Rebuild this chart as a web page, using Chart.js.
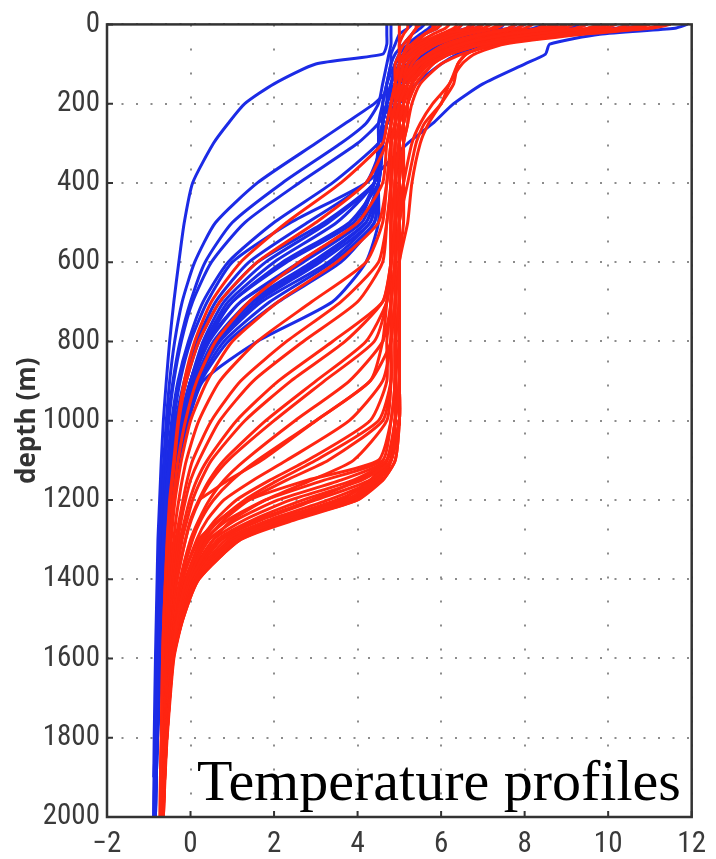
<!DOCTYPE html>
<html>
<head>
<meta charset="utf-8">
<title>Temperature profiles</title>
<script src="https://cdn.jsdelivr.net/npm/chart.js@4.4.1/dist/chart.umd.min.js"></script>
<style>
  html, body { margin: 0; padding: 0; background: #fff; }
  #wrap { position: relative; width: 716px; height: 859px; }
  #note {
    position: absolute; left: 197px; top: 752px;
    font-family: 'Liberation Serif', 'Times New Roman', serif;
    font-size: 58px; line-height: 1; color: #000; white-space: nowrap;
  }
</style>
</head>
<body>
<div id="wrap">
  <canvas id="chart" width="716" height="859"></canvas>
  <div id="note">Temperature profiles</div>
</div>
<script>
// depth levels (m) shared by every profile
const depths = [0, 10, 25, 50, 75, 100, 150, 200, 250, 300,
                400, 500, 600, 700, 800, 900, 1000, 1100, 1150, 1200,
                1250, 1300, 1400, 1500, 1600, 1800, 1900, 2000];

const tempTicks = [-2, 0, 2, 4, 6, 8, 10, 12];
const depthTicks = [0, 200, 400, 600, 800, 1000, 1200, 1400, 1600, 1800, 2000];

// temperature (deg C), one row per profile
const blueProfiles = [
  [4.7, 4.7, 4.7, 4.7, 4.6, 3.0, 2.0, 1.3, 0.9, 0.55,  0.05, -0.15, -0.28, -0.4, -0.5, -0.58, -0.65, -0.7, -0.72, -0.74,  -0.76, -0.78, -0.8, -0.82, -0.84, -0.87, -0.88, null],
  [11.9, 11.6, 9.8, 8.6, 8.5, 8.0, 7.0, 6.3, 5.8, 5.2,  4.2, 2.4, 1.0, 0.4, 0.0, -0.25, -0.4, -0.5, -0.55, -0.6,  -0.63, -0.66, -0.72, -0.76, -0.79, -0.83, -0.85, -0.86],
  [10.5, 10.2, 8.5, 6.8, 6.0, 5.5, 4.9, 4.4, 3.7, 3.0,  1.6, 0.6, 0.1, -0.2, -0.38, -0.5, -0.58, -0.64, -0.67, -0.7,  -0.72, -0.74, -0.78, -0.8, -0.82, -0.85, -0.87, -0.88],
  [9.5, 9.2, 8.0, 7.0, 6.2, 5.6, 5.1, 4.8, 4.5, 4.0,  2.6, 1.3, 0.5, 0.05, -0.22, -0.4, -0.52, -0.6, -0.63, -0.66,  -0.69, -0.72, -0.76, -0.79, -0.81, -0.84, -0.86, -0.87],
  [8.8, 8.6, 7.8, 7.0, 6.4, 6.0, 5.4, 5.0, 4.7, 4.5,  3.4, 2.0, 0.9, 0.3, -0.05, -0.3, -0.45, -0.55, -0.59, -0.62,  -0.65, -0.68, -0.73, -0.77, -0.8, -0.84, -0.86, -0.87],
  [7.5, 7.4, 6.8, 6.0, 5.6, 5.3, 5.0, 4.8, 4.7, 4.6,  4.2, 2.8, 1.4, 0.6, 0.15, -0.15, -0.35, -0.48, -0.53, -0.57,  -0.6, -0.63, -0.7, -0.75, -0.78, -0.83, -0.85, -0.86],
  [6.5, 6.4, 6.0, 5.6, 5.3, 5.1, 4.9, 4.7, 4.6, 4.5,  4.4, 3.3, 1.8, 0.8, 0.3, 0.0, -0.25, -0.4, -0.46, -0.5,  -0.54, -0.58, -0.65, -0.71, -0.76, -0.82, -0.84, -0.85],
  [5.8, 5.7, 5.5, 5.2, 5.0, 4.9, 4.8, 4.7, 4.6, 4.5,  4.4, 3.9, 2.3, 1.0, 0.35, 0.0, -0.22, -0.38, -0.44, -0.49,  -0.53, -0.57, -0.64, -0.7, -0.75, -0.81, -0.84, -0.85],
  [7.0, 6.8, 6.2, 5.5, 5.1, 4.9, 4.7, 4.6, 4.5, 4.5,  4.4, 4.0, 2.6, 1.2, 0.45, 0.05, -0.2, -0.36, -0.42, -0.47,  -0.51, -0.55, -0.62, -0.69, -0.74, -0.8, -0.83, -0.85],
  [9.0, 8.8, 7.5, 6.2, 5.6, 5.2, 4.9, 4.7, 4.6, 4.6,  4.5, 4.2, 2.9, 1.4, 0.55, 0.1, -0.18, -0.34, -0.4, -0.45,  -0.5, -0.54, -0.62, -0.68, -0.73, -0.8, -0.83, -0.85],
  [8.0, 7.8, 7.0, 6.0, 5.5, 5.2, 4.9, 4.8, 4.7, 4.6,  4.5, 4.3, 3.3, 1.7, 0.7, 0.15, -0.15, -0.32, -0.38, -0.44,  -0.49, -0.53, -0.61, -0.68, -0.73, -0.8, -0.83, -0.84],
  [6.0, 5.9, 5.6, 5.3, 5.1, 5.0, 4.8, 4.7, 4.6, 4.6,  4.5, 4.4, 3.6, 2.1, 0.9, 0.25, -0.1, -0.3, -0.37, -0.43,  -0.48, -0.52, -0.6, -0.67, -0.72, -0.79, -0.82, -0.84],
  [5.3, 5.2, 5.0, 4.9, 4.8, 4.8, 4.7, 4.7, 4.6, 4.6,  4.5, 4.5, 4.2, 3.4, 1.6, 0.3, -0.05, -0.28, -0.35, -0.41,  -0.46, -0.5, -0.58, -0.66, -0.72, -0.79, -0.82, -0.84],
  [10.0, 9.7, 8.2, 6.5, 5.8, 5.4, 5.0, 4.8, 4.7, 4.6,  4.4, 3.2, 1.6, 0.7, 0.2, -0.1, -0.3, -0.44, -0.5, -0.54,  -0.58, -0.62, -0.68, -0.74, -0.78, -0.83, -0.85, -0.86],
  [4.8, 4.8, 4.8, 4.8, 4.75, 4.7, 4.6, 4.5, 4.2, 3.6,  2.2, 1.0, 0.35, 0.0, -0.25, -0.42, -0.54, -0.62, -0.65, -0.68,  -0.71, -0.73, -0.77, -0.8, -0.82, -0.85, -0.87, -0.88],
  [8.5, 8.2, 7.2, 6.4, 5.9, 5.5, 5.1, 4.9, 4.7, 4.6,  4.5, 4.1, 2.7, 1.2, 0.4, 0.0, -0.22, -0.37, -0.43, -0.48,  -0.52, -0.56, -0.63, -0.69, -0.74, -0.8, -0.83, -0.85],
  [6.8, 6.6, 6.1, 5.5, 5.2, 5.0, 4.8, 4.7, 4.6, 4.5,  4.4, 3.5, 2.0, 0.9, 0.35, 0.0, -0.25, -0.4, -0.46, -0.5,  -0.54, -0.58, -0.65, -0.71, -0.76, -0.82, -0.84, -0.85],
  [9.3, 9.0, 7.8, 6.6, 5.9, 5.4, 5.0, 4.8, 4.7, 4.6,  4.5, 3.8, 2.2, 1.0, 0.4, 0.05, -0.2, -0.37, -0.43, -0.48,  -0.52, -0.56, -0.63, -0.7, -0.75, -0.81, -0.84, -0.85],
  [5.6, 5.5, 5.3, 5.1, 4.9, 4.8, 4.7, 4.6, 4.6, 4.5,  4.5, 4.2, 3.0, 1.5, 0.6, 0.1, -0.17, -0.34, -0.4, -0.46,  -0.5, -0.54, -0.62, -0.68, -0.73, -0.8, -0.83, -0.85],
  [7.8, 7.6, 6.8, 6.0, 5.5, 5.2, 4.9, 4.8, 4.7, 4.6,  4.5, 4.3, 3.1, 1.6, 0.65, 0.12, -0.16, -0.33, -0.39, -0.45,  -0.5, -0.54, -0.61, -0.68, -0.73, -0.8, -0.83, -0.84],
  [10.8, 10.4, 8.7, 7.0, 6.1, 5.6, 5.1, 4.9, 4.7, 4.6,  4.5, 4.4, 3.4, 1.9, 0.8, 0.2, -0.12, -0.31, -0.38, -0.44,  -0.49, -0.53, -0.61, -0.67, -0.72, -0.79, -0.82, -0.84]
];

const redProfiles = [
  [7.0, 6.8, 6.0, 5.5, 5.2, 5.0, 4.9, 4.8, 4.7, 4.6,  3.6, 2.3, 1.2, 0.5, 0.1, -0.15, -0.3, -0.4, -0.45, -0.5,  -0.53, -0.56, -0.6, -0.64, -0.67, -0.7, -0.72, -0.73],
  [9.0, 8.7, 7.6, 6.5, 5.9, 5.5, 5.1, 4.9, 4.8, 4.7,  4.2, 3.0, 1.6, 0.7, 0.2, -0.1, -0.28, -0.38, -0.43, -0.48,  -0.52, -0.55, -0.6, -0.64, -0.67, -0.7, -0.72, -0.73],
  [6.0, 5.9, 5.6, 5.3, 5.1, 5.0, 4.9, 4.8, 4.8, 4.7,  4.6, 4.0, 2.6, 1.4, 0.6, 0.15, -0.12, -0.3, -0.36, -0.42,  -0.46, -0.5, -0.56, -0.61, -0.65, -0.69, -0.71, -0.72],
  [10.5, 10.2, 8.8, 7.0, 6.2, 5.7, 5.2, 5.0, 4.9, 4.8,  4.7, 4.5, 3.5, 2.1, 1.0, 0.4, 0.0, -0.22, -0.3, -0.37,  -0.42, -0.46, -0.53, -0.59, -0.63, -0.68, -0.7, -0.72],
  [8.0, 7.8, 7.0, 6.2, 5.7, 5.4, 5.1, 5.0, 4.9, 4.8,  4.7, 4.6, 4.2, 2.9, 1.6, 0.7, 0.2, -0.1, -0.2, -0.28,  -0.35, -0.4, -0.49, -0.56, -0.61, -0.67, -0.7, -0.71],
  [6.7, 6.6, 6.1, 5.6, 5.3, 5.1, 5.0, 4.9, 4.9, 4.8,  4.8, 4.7, 4.5, 3.6, 2.3, 1.2, 0.5, 0.05, -0.08, -0.18,  -0.27, -0.35, -0.46, -0.54, -0.6, -0.66, -0.69, -0.7],
  [5.5, 5.4, 5.3, 5.1, 5.0, 5.0, 4.9, 4.9, 4.8, 4.8,  4.8, 4.7, 4.6, 4.0, 2.7, 1.5, 0.7, 0.2, 0.0, -0.12,  -0.22, -0.3, -0.42, -0.51, -0.58, -0.65, -0.68, -0.7],
  [9.8, 9.5, 8.2, 6.9, 6.2, 5.8, 5.4, 5.2, 5.1, 5.0,  4.9, 4.9, 4.8, 4.6, 3.4, 2.1, 1.1, 0.4, 0.15, -0.02,  -0.14, -0.25, -0.4, -0.5, -0.57, -0.65, -0.68, -0.7],
  [11.0, 10.6, 9.0, 7.2, 6.6, 6.4, 6.2, 5.8, 5.5, 5.3,  5.1, 4.9, 4.8, 4.6, 3.7, 2.4, 1.3, 0.5, 0.25, 0.05,  -0.08, -0.2, -0.36, -0.48, -0.56, -0.64, -0.67, -0.69],
  [5.9, 5.8, 5.6, 5.3, 5.1, 5.0, 4.9, 4.9, 4.8, 4.8,  4.8, 4.8, 4.8, 4.7, 4.4, 3.2, 2.0, 0.9, 0.5, 0.22,  0.02, -0.12, -0.32, -0.45, -0.54, -0.63, -0.66, -0.68],
  [7.5, 7.3, 6.6, 5.9, 5.5, 5.3, 5.1, 5.0, 5.0, 4.9,  4.9, 4.8, 4.8, 4.7, 4.2, 3.0, 1.8, 0.8, 0.45, 0.2,  0.0, -0.12, -0.32, -0.45, -0.54, -0.63, -0.66, -0.68],
  [9.5, 9.2, 8.0, 6.8, 6.0, 5.6, 5.3, 5.1, 5.0, 5.0,  4.9, 4.9, 4.8, 4.8, 4.6, 3.8, 2.5, 1.3, 0.8, 0.45,  0.2, 0.0, -0.25, -0.42, -0.52, -0.62, -0.66, -0.68],
  [8.7, 8.4, 7.5, 6.6, 6.0, 5.6, 5.3, 5.1, 5.0, 5.0,  4.9, 4.9, 4.9, 4.8, 4.8, 4.3, 3.0, 1.6, 1.0, 0.55,  0.25, 0.05, -0.22, -0.4, -0.51, -0.62, -0.66, -0.68],
  [6.5, 6.4, 6.0, 5.5, 5.2, 5.1, 5.0, 4.9, 4.9, 4.9,  4.8, 4.8, 4.8, 4.7, 4.6, 4.3, 3.0, 1.7, 0.9, 0.2,  null, null, null, null, null, null, null, null],
  [8.5, 8.3, 7.4, 6.5, 5.9, 5.5, 5.2, 5.1, 5.0, 5.0,  4.9, 4.9, 4.9, 4.8, 4.8, 4.6, 3.8, 2.3, 1.5, 0.8,  0.4, 0.15, -0.18, -0.38, -0.5, -0.61, -0.65, -0.67],
  [7.0, 6.9, 6.3, 5.7, 5.4, 5.2, 5.1, 5.0, 5.0, 4.9,  4.9, 4.9, 4.9, 4.9, 4.8, 4.8, 4.5, 3.0, 2.1, 1.3,  0.7, 0.3, -0.1, -0.33, -0.47, -0.6, -0.64, -0.66],
  [5.2, 5.2, 5.1, 5.0, 5.0, 4.9, 4.9, 4.9, 4.9, 4.8,  4.8, 4.8, 4.8, 4.8, 4.7, 4.7, 4.3, 2.8, 1.9, 1.1,  0.6, 0.25, -0.12, -0.35, -0.48, -0.6, -0.64, -0.66],
  [10.0, 9.7, 8.3, 6.9, 6.1, 5.7, 5.3, 5.1, 5.0, 5.0,  5.0, 4.9, 4.9, 4.9, 4.8, 4.8, 4.6, 3.3, 2.3, 1.4,  0.8, 0.4, -0.05, -0.3, -0.45, -0.58, -0.63, -0.66],
  [7.2, 7.0, 6.4, 5.8, 5.4, 5.2, 5.0, 5.0, 4.9, 4.9,  4.9, 4.9, 4.9, 4.8, 4.8, 4.8, 4.7, 3.9, 2.9, 1.8,  1.0, 0.55, 0.0, -0.28, -0.44, -0.58, -0.63, -0.66],
  [9.8, 9.5, 8.2, 6.9, 6.1, 5.7, 5.3, 5.2, 5.1, 5.0,  5.0, 5.0, 4.9, 4.9, 4.9, 4.9, 4.8, 4.5, 2.8, 1.4,  0.7, 0.2, -0.2, -0.4, -0.52, -0.62, -0.66, -0.7],
  [6.2, 6.1, 5.8, 5.4, 5.2, 5.1, 5.0, 5.0, 5.0, 5.0,  5.0, 4.9, 4.9, 4.9, 4.9, 4.9, 4.8, 4.6, 3.2, 1.8,  0.9, 0.35, -0.12, -0.36, -0.5, -0.61, -0.65, -0.69],
  [11.5, 11.0, 9.4, 7.5, 6.8, 6.5, 6.2, 6.0, 5.6, 5.4,  5.2, 5.0, 5.0, 5.0, 4.9, 4.9, 4.9, 4.7, 3.6, 2.1,  1.1, 0.45, -0.08, -0.34, -0.48, -0.6, -0.65, -0.69],
  [8.2, 8.0, 7.2, 6.3, 5.8, 5.5, 5.2, 5.1, 5.1, 5.0,  5.0, 5.0, 5.0, 4.9, 4.9, 4.9, 4.9, 4.7, 3.9, 2.4,  1.3, 0.55, -0.05, -0.32, -0.47, -0.6, -0.64, -0.68],
  [5.8, 5.8, 5.6, 5.4, 5.2, 5.1, 5.0, 5.0, 5.0, 5.0,  5.0, 5.0, 5.0, 5.0, 4.9, 4.9, 4.9, 4.8, 4.1, 2.7,  1.5, 0.65, 0.0, -0.3, -0.46, -0.59, -0.64, -0.68],
  [11.3, 10.9, 9.2, 7.4, 6.5, 6.0, 5.5, 5.3, 5.2, 5.1,  5.1, 5.0, 5.0, 5.0, 5.0, 5.0, 4.9, 4.7, 4.0, 2.9,  1.6, 0.7, 0.05, -0.28, -0.45, -0.59, -0.64, -0.68],
  [9.2, 8.9, 7.8, 6.6, 6.0, 5.6, 5.3, 5.2, 5.1, 5.1,  5.0, 5.0, 5.0, 5.0, 5.0, 4.9, 4.9, 4.8, 4.3, 3.0,  1.7, 0.75, 0.03, -0.28, -0.45, -0.59, -0.64, -0.67],
  [6.8, 6.7, 6.2, 5.7, 5.4, 5.2, 5.1, 5.0, 5.0, 5.0,  5.0, 5.0, 5.0, 5.0, 5.0, 5.0, 4.9, 4.8, 4.4, 3.3,  1.9, 0.85, 0.07, -0.26, -0.44, -0.58, -0.63, -0.67],
  [10.8, 10.4, 8.9, 7.2, 6.6, 6.4, 6.3, 6.0, 5.7, 5.5,  5.3, 5.2, 5.0, 5.0, 5.0, 5.0, 5.0, 4.8, 4.5, 3.5,  2.1, 0.95, 0.1, -0.24, -0.43, -0.58, -0.63, -0.66],
  [7.8, 7.6, 6.9, 6.1, 5.7, 5.4, 5.2, 5.1, 5.1, 5.1,  5.0, 5.0, 5.0, 5.0, 5.0, 5.0, 5.0, 4.8, 4.5, 3.7,  2.2, 1.05, 0.13, -0.22, -0.42, -0.57, -0.62, -0.66],
  [5.0, 5.0, 5.0, 5.0, 5.0, 5.0, 5.0, 5.0, 5.0, 5.0,  5.0, 5.0, 5.0, 5.0, 5.0, 5.0, 5.0, 4.8, 4.5, 3.8,  2.2, 1.1, 0.15, -0.2, -0.42, -0.57, -0.62, -0.66],
  [5.4, 5.4, 5.3, 5.2, 5.1, 5.1, 5.0, 5.0, 5.0, 5.0,  5.0, 5.0, 5.0, 5.0, 5.0, 5.0, 5.0, 4.8, 4.6, 3.8,  2.3, 1.1, 0.16, -0.2, -0.42, -0.57, -0.62, -0.66],
  [8.8, 8.5, 7.5, 6.5, 5.9, 5.5, 5.3, 5.2, 5.1, 5.1,  5.1, 5.0, 5.0, 5.0, 5.0, 5.0, 5.0, 4.9, 4.6, 3.9,  2.4, 1.15, 0.18, -0.19, -0.41, -0.57, -0.62, -0.65],
  [6.4, 6.3, 6.0, 5.6, 5.4, 5.2, 5.1, 5.1, 5.0, 5.0,  5.0, 5.0, 5.0, 5.0, 5.0, 5.0, 5.0, 4.9, 4.6, 4.0,  2.5, 1.2, 0.2, -0.18, -0.4, -0.56, -0.61, -0.65],
  [10.2, 9.9, 8.6, 7.0, 6.2, 5.8, 5.4, 5.2, 5.2, 5.1,  5.1, 5.1, 5.0, 5.0, 5.0, 5.0, 5.0, 4.8, 4.5, 4.0,  2.4, 1.2, 0.2, -0.18, -0.42, -0.58, -0.62, -0.65],
  [7.4, 7.2, 6.6, 5.9, 5.5, 5.3, 5.1, 5.1, 5.0, 5.0,  5.0, 5.0, 5.0, 5.0, 5.0, 5.0, 4.9, 4.7, 4.3, 3.6,  2.0, 1.0, 0.12, -0.22, -0.43, -0.58, -0.63, -0.66]
];

const BLUE = '#1c2be6';
const RED = '#ff2612';

function profilePoints(temps) {
  return depths.map((d, i) => ({ x: temps[i], y: d })).filter(p => p.x !== null);
}

function profileDataset(temps, color) {
  return {
    data: profilePoints(temps),
    showLine: true,
    borderColor: color,
    backgroundColor: color,
    borderWidth: 3,
    pointRadius: 0,
    pointHoverRadius: 0,
    tension: 0.2,
    fill: false
  };
}

// chart.js paints dataset 0 last, so reds first puts them on top
const datasets = [
  ...redProfiles.map(t => profileDataset(t, RED)),
  ...blueProfiles.map(t => profileDataset(t, BLUE))
];

// box round the plot and the small inward tick marks
const frame = {
  id: 'frame',
  afterDatasetsDraw(chart) {
    const { ctx, chartArea: a, scales: { x, y } } = chart;
    ctx.save();
    ctx.strokeStyle = '#333';
    ctx.lineWidth = 2.5;
    ctx.strokeRect(a.left, a.top, a.right - a.left, a.bottom - a.top);
    ctx.lineWidth = 2;
    ctx.beginPath();
    tempTicks.forEach(v => {
      const px = x.getPixelForValue(v);
      ctx.moveTo(px, a.bottom);
      ctx.lineTo(px, a.bottom - 6);
    });
    depthTicks.forEach(v => {
      const py = y.getPixelForValue(v);
      ctx.moveTo(a.left, py);
      ctx.lineTo(a.left + 6, py);
    });
    ctx.stroke();
    ctx.restore();
  }
};

const tickFont = { family: "'Liberation Sans Narrow', 'Roboto Condensed', 'DejaVu Sans Condensed', sans-serif", size: 29 };
const plainLabel = v => String(v).replace('-', '\u2212');

new Chart(document.getElementById('chart'), {
  type: 'scatter',
  data: { datasets },
  options: {
    responsive: false,
    animation: false,
    devicePixelRatio: 1,
    events: [],
    layout: { padding: { top: 24, right: 19, left: 0, bottom: 0 } },
    plugins: { legend: { display: false }, tooltip: { enabled: false } },
    scales: {
      x: {
        type: 'linear',
        min: -2,
        max: 12,
        afterBuildTicks: s => { s.ticks = tempTicks.map(v => ({ value: v })); },
        afterFit: s => { s.height = 42; },
        grid: { color: '#8c8c8c', lineWidth: 2, drawTicks: false },
        border: { display: false, dash: [2, 22] },
        ticks: { color: '#3a3a3a', font: tickFont, padding: 10, maxRotation: 0, callback: plainLabel }
      },
      y: {
        type: 'linear',
        reverse: true,
        min: 0,
        max: 2000,
        afterBuildTicks: s => { s.ticks = depthTicks.map(v => ({ value: v })); },
        afterFit: s => { s.width = 107; },
        grid: { color: '#8c8c8c', lineWidth: 2, drawTicks: false },
        border: { display: false, dash: [2, 12.5] },
        ticks: { color: '#3a3a3a', font: tickFont, padding: 7, callback: plainLabel },
        title: {
          display: true,
          text: 'depth (m)',
          color: '#333',
          font: { family: "'Open Sans', 'DejaVu Sans', sans-serif", size: 26, weight: 'bold' },
          padding: { top: 12, bottom: 0 }
        }
      }
    }
  },
  plugins: [frame]
});
</script>
</body>
</html>
